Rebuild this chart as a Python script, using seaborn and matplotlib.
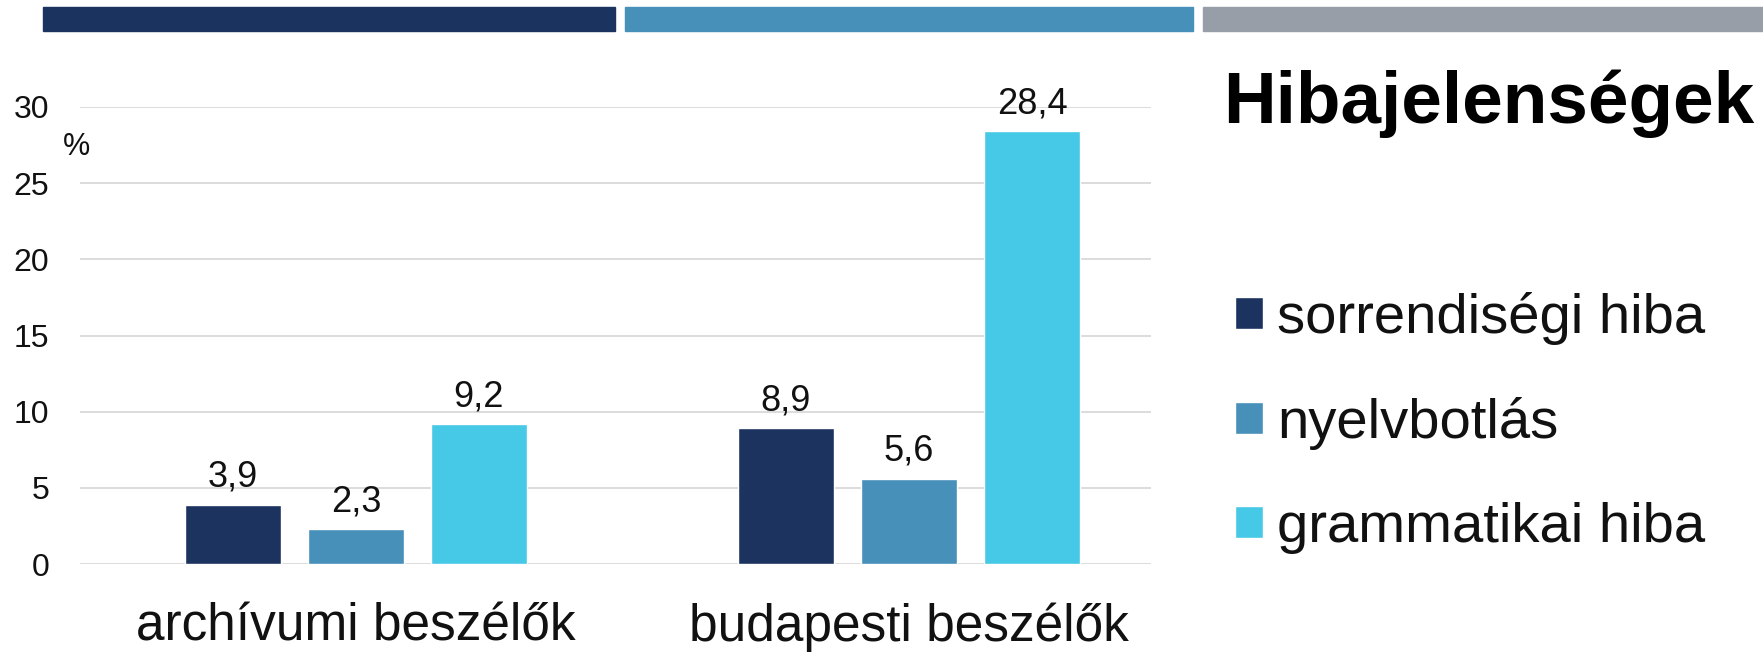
import numpy as np
import pandas as pd
import matplotlib
matplotlib.use("Agg")
import matplotlib.pyplot as plt
from matplotlib.patches import Rectangle
import seaborn as sns

# data
groups = ["archívumi beszélők", "budapesti beszélők"]
series = ["sorrendiségi hiba", "nyelvbotlás", "grammatikai hiba"]
sorrendisegi = [3.9, 8.9]
nyelvbotlas = [2.3, 5.6]
grammatikai = [9.2, 28.4]
yticks = [0, 5, 10, 15, 20, 25, 30]

colors = ["#1c3360", "#4690ba", "#46c9e6"]
strip_colors = ["#1b335f", "#4690ba", "#979ea7"]

df = pd.DataFrame({
    "csoport": groups * 3,
    "tipus": [series[0]] * 2 + [series[1]] * 2 + [series[2]] * 2,
    "ertek": sorrendisegi + nyelvbotlas + grammatikai,
})

sns.set_theme(style="white")
plt.rcParams["font.family"] = ["Liberation Sans", "DejaVu Sans"]
plt.rcParams["text.color"] = "black"

W, H = 1763, 653
fig = plt.figure(figsize=(W / 100, H / 100), dpi=100)
ax = fig.add_axes([80 / W, 1 - 564 / H, (1151 - 80) / W, (564 - 107) / H])

sns.barplot(data=df, x="csoport", y="ertek", hue="tipus", order=groups,
            hue_order=series, palette=colors, width=0.667, gap=0.22,
            saturation=1, ax=ax, zorder=3)

for cont, vals in zip(ax.containers, [sorrendisegi, nyelvbotlas, grammatikai]):
    ax.bar_label(cont, labels=[f"{v:.1f}".replace(".", ",") for v in vals],
                 padding=7, fontsize=26, color="#111111")

ax.set_ylim(0, 30)
ax.set_xlim(-0.499, 1.4376)
ax.set_yticks(yticks)
ax.yaxis.grid(True, color="#d9d9d9", linewidth=1.3, zorder=0)
ax.set_axisbelow(True)
for s in ax.spines.values():
    s.set_visible(False)
ax.tick_params(axis="y", length=0, pad=22, labelsize=23, labelcolor="#111111")
ax.tick_params(axis="x", length=0, pad=28, labelsize=37, labelcolor="#111111")
ax.set_xlabel("")
ax.set_ylabel("")

# legend on the right
handles, labels = ax.get_legend_handles_labels()
leg = ax.legend(handles, labels, loc="center left",
                bbox_to_anchor=(1235 / W, 1 - 423 / H),
                bbox_transform=fig.transFigure, frameon=False, fontsize=40.5,
                handlelength=0.5, handleheight=0.5, handletextpad=0.25,
                labelspacing=0.93, borderpad=0, borderaxespad=0)
for t in leg.get_texts():
    t.set_color("#111111")

fig.text(1223 / W, 1 - 123 / H, "Hibajelenségek", fontsize=52.5,
         fontweight="bold", va="baseline", ha="left", color="black")
fig.text(63 / W, 1 - 155 / H, "%", fontsize=22, va="baseline", ha="left",
         color="#111111")

# decorative strip at the top
for (x0, x1), c in zip([(43, 615), (625, 1193), (1203, 1763)], strip_colors):
    fig.patches.append(Rectangle((x0 / W, 1 - 31 / H), (x1 - x0) / W, 24 / H,
                                 transform=fig.transFigure, color=c, zorder=0))

fig.savefig("out.png", dpi=100)
